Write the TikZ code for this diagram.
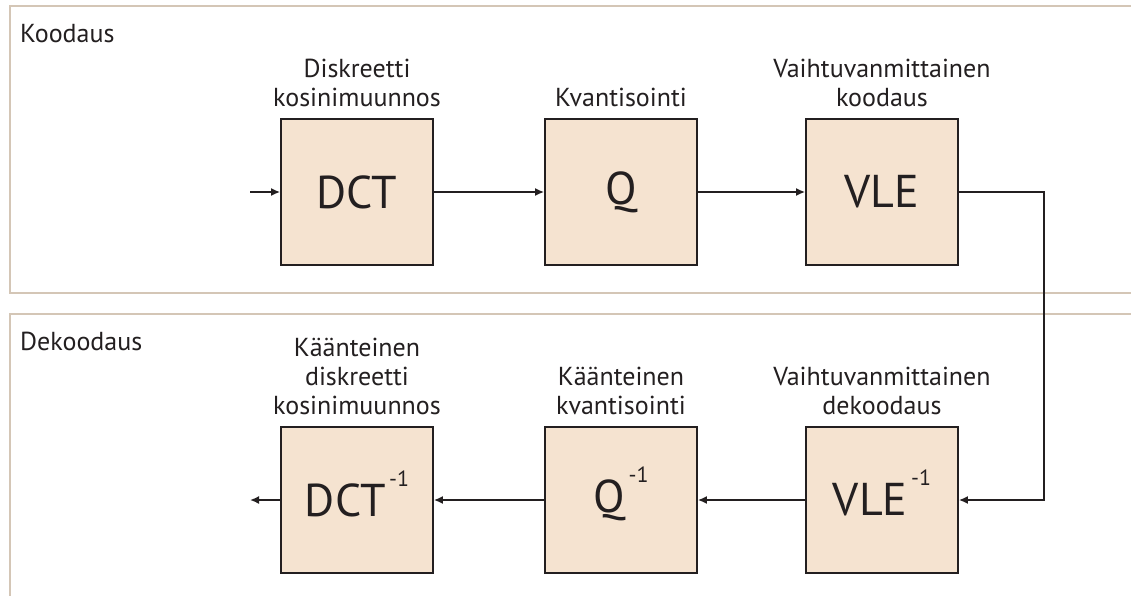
\documentclass[tikz,border=0pt]{standalone}
\usepackage{fontspec}
\setmainfont{PT Sans}
\usetikzlibrary{arrows.meta}
\definecolor{panelline}{RGB}{212,198,182}
\definecolor{boxfill}{RGB}{245,227,208}
\definecolor{ink}{RGB}{35,31,32}
\tikzset{
  panel/.style={draw=panelline, line width=2pt},
  stage/.style={draw=ink, fill=boxfill, line width=1.8pt, minimum width=152pt,
    minimum height=146pt, inner sep=0pt, font=\fontsize{46}{54}\selectfont, text=ink},
  caption/.style={align=center, inner sep=0pt, anchor=south, text=ink,
    font=\fontsize{26}{29}\selectfont},
  section/.style={inner sep=0pt, anchor=base west, text=ink,
    font=\fontsize{26}{29}\selectfont},
  flow/.style={draw=ink, line width=1.6pt, -{Latex[length=9pt,width=8pt]}}
}
\newcommand{\inv}{\smash{\raisebox{30pt}{\fontsize{22}{22}\selectfont\,-1}}}
\begin{document}
\begin{tikzpicture}[x=1pt,y=-1pt]
\useasboundingbox (0,0) rectangle (1131,595);

% section frames, open to the right
\draw[panel] (1140,6) -- (10,6) -- (10,293) -- (1140,293);
\draw[panel] (1140,314) -- (10,314) -- (10,605);
\node[section] (enc) at (20,42) {Koodaus};
\node[section] (dec) at (20,350) {Dekoodaus};

% encoder chain
\node[stage] (dct) at (357,192) {DCT};
\node[stage] (q)   at (621,192) {Q};
\node[stage] (vle) at (882,192) {VLE};
\node[caption] (ldct) at ([yshift=11pt]dct.north) {Diskreetti\\kosinimuunnos};
\node[caption] (lq)   at ([yshift=11pt]q.north) {Kvantisointi};
\node[caption] (lvle) at ([yshift=11pt]vle.north) {Vaihtuvanmittainen\\koodaus};

% decoder chain
\node[stage] (idct) at (357,500) {DCT\inv};
\node[stage] (iq)   at (621,500) {Q\inv};
\node[stage] (ivle) at (882,500) {VLE\inv};
\node[caption] (lidct) at ([yshift=11pt]idct.north) {Käänteinen\\diskreetti\\kosinimuunnos};
\node[caption] (liq)   at ([yshift=11pt]iq.north) {Käänteinen\\kvantisointi};
\node[caption] (livle) at ([yshift=11pt]ivle.north) {Vaihtuvanmittainen\\dekoodaus};

% signal path
\coordinate (in) at (250,192);
\coordinate (out) at (250,500);
\draw[flow] (in) -- (dct.west);
\draw[flow] (dct.east) -- (q.west);
\draw[flow] (q.east) -- (vle.west);
\draw[flow] (vle.east) -- ++(85,0) |- (ivle.east);
\draw[flow] (ivle.west) -- (iq.east);
\draw[flow] (iq.west) -- (idct.east);
\draw[flow] (idct.west) -- (out);
\end{tikzpicture}
\end{document}
